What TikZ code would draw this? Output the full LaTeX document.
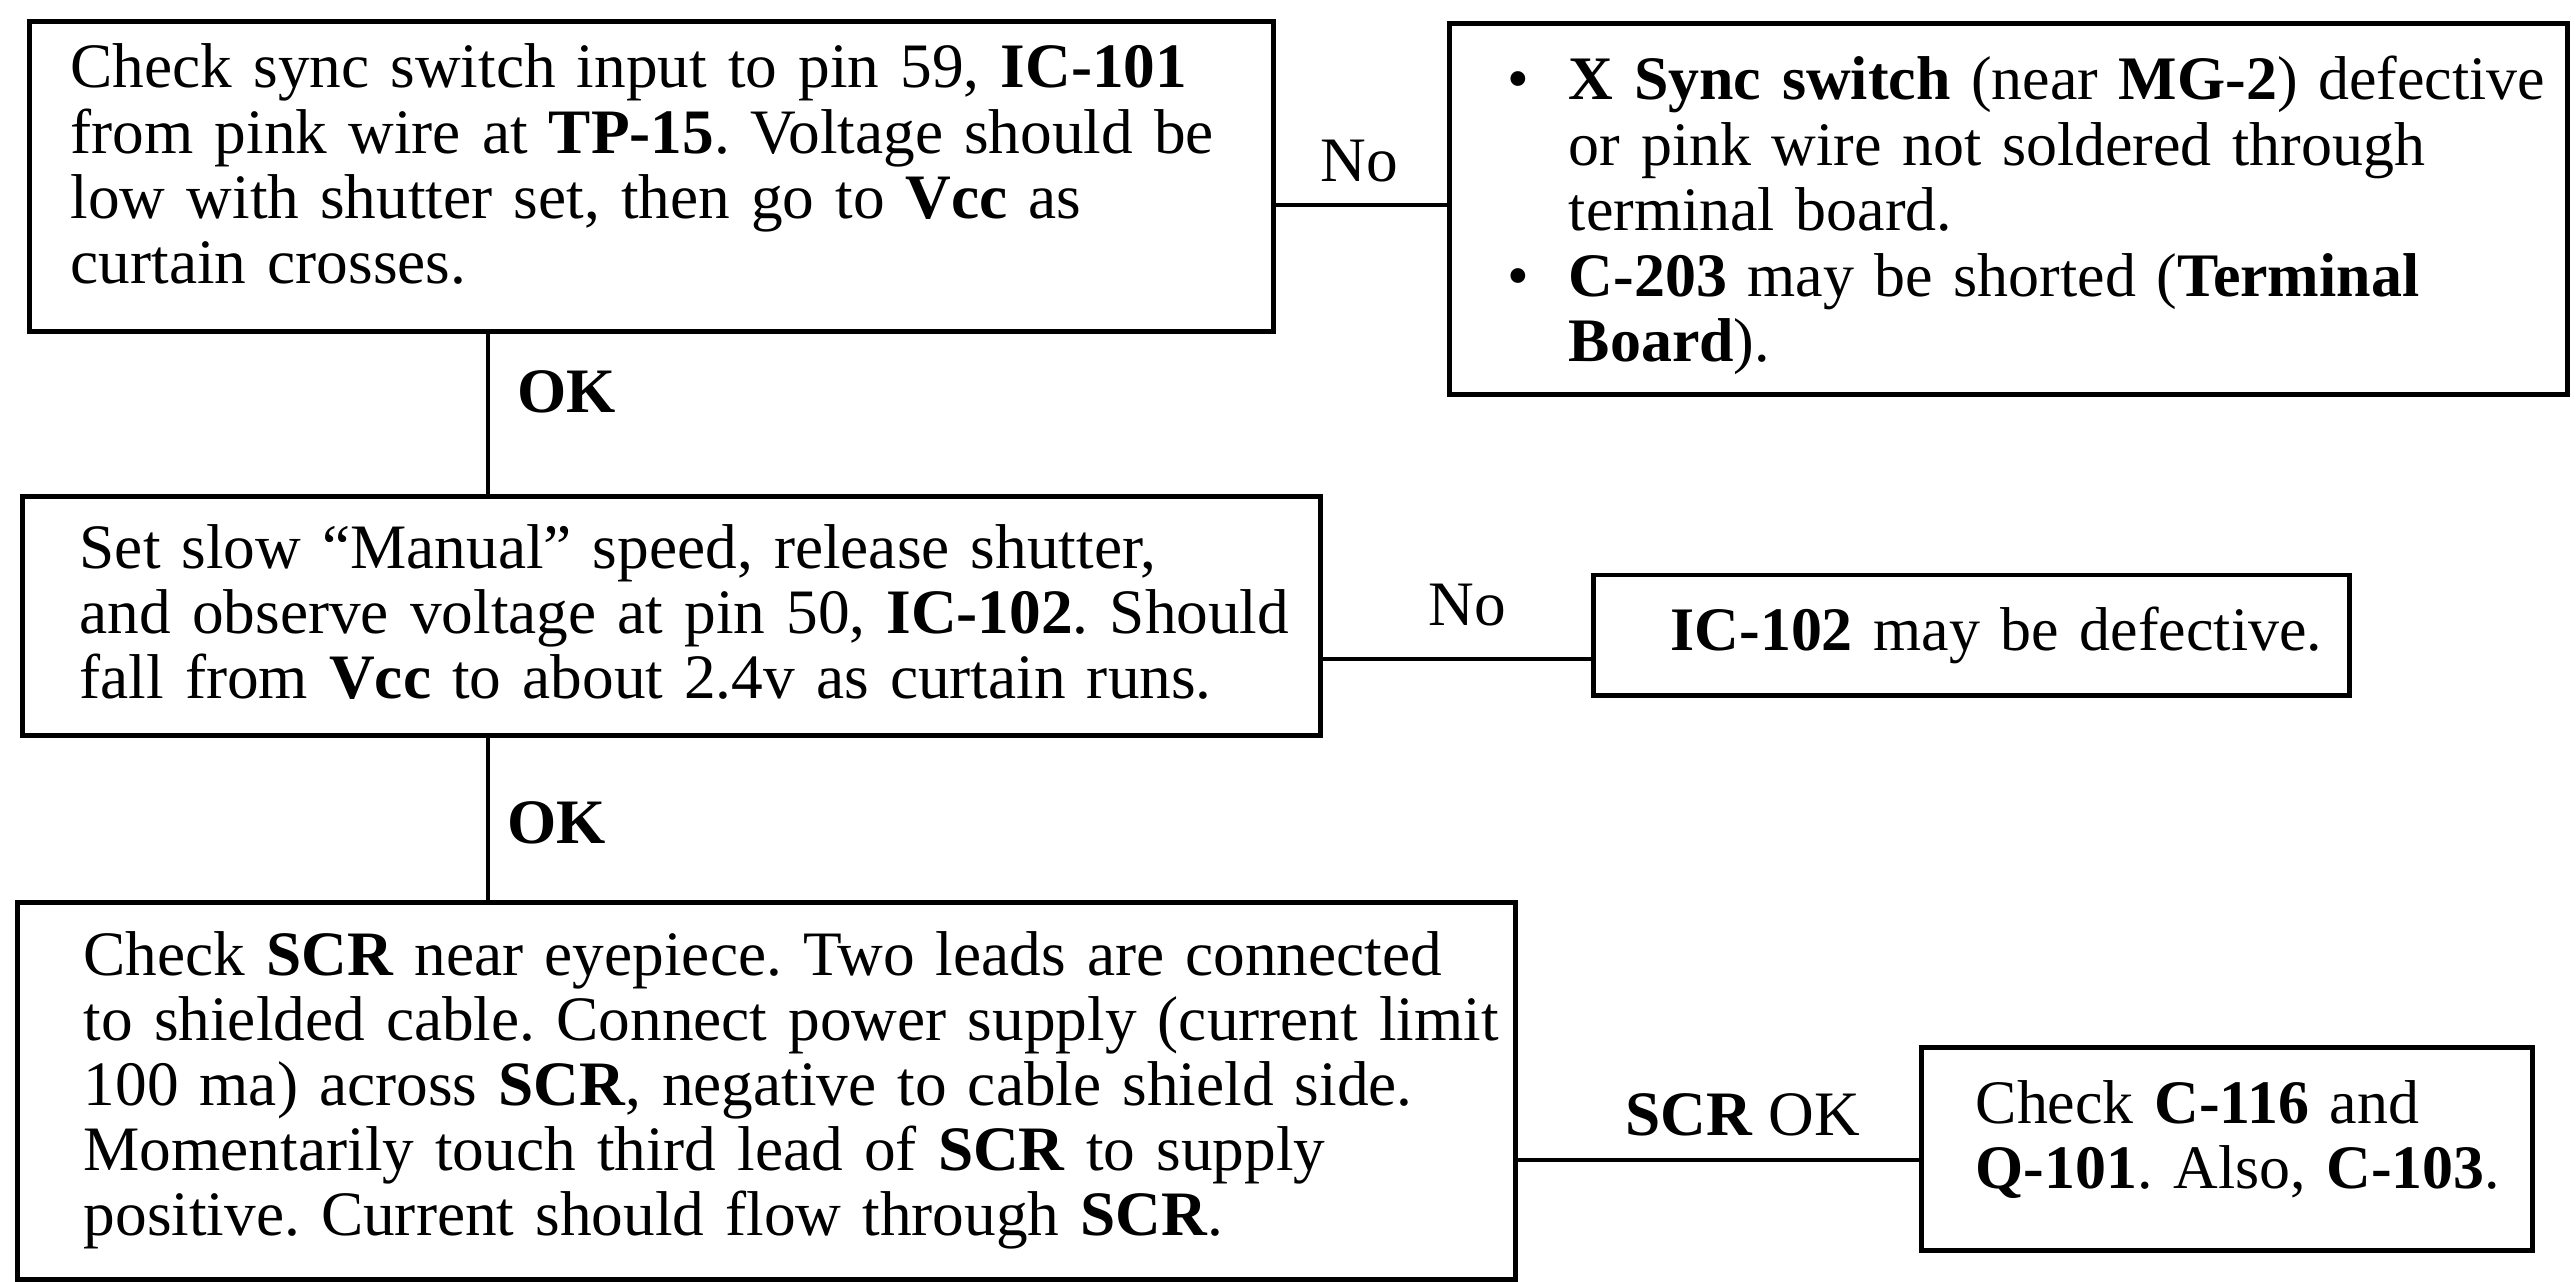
\documentclass[tikz,border=0pt]{standalone}
\usepackage{fontspec}
\setmainfont{Liberation Serif}
\begin{document}
\begin{tikzpicture}[x=0.01cm, y=-0.01cm,
  every node/.style={font=\fontsize{18}{18.5}\selectfont\frenchspacing},
  box/.style={draw, rectangle, line width=1.4pt, inner sep=0pt},
  conn/.style={line width=1.1pt},
  txt/.style={anchor=base west, inner sep=0pt, align=left},
  small/.style={font=\fontsize{17.6}{18.6}\selectfont\frenchspacing},
  lbl/.style={inner sep=0pt}]
\fill[white] (0,0) rectangle (2575,1282);
\useasboundingbox (0,0) rectangle (2575,1282);

% boxes
\node[box, minimum width=12.43cm, minimum height=3.09cm] (b1) at (651.5,176.5) {};
\node[box, minimum width=11.17cm, minimum height=3.70cm] (b2) at (2008.5,209) {};
\node[box, minimum width=12.97cm, minimum height=2.38cm] (b3) at (671.5,616) {};
\node[box, minimum width=7.55cm, minimum height=1.20cm] (b4) at (1971.5,635) {};
\node[box, minimum width=14.97cm, minimum height=3.76cm] (b5) at (766.5,1091) {};
\node[box, minimum width=6.10cm, minimum height=2.02cm] (b6) at (2227,1149) {};

% texts
\node[txt, text width=12.1cm] (t1) at (70,88) {Check sync switch input to pin 59, \textbf{IC-101}\\
from pink wire at \textbf{TP-15}. Voltage should be\\
low with shutter set, then go to \textbf{Vcc} as\\
curtain crosses.};

\node[txt, small, text width=10.6cm] (t2) at (1507,100) {\makebox[17.4pt][l]{\textbullet}\textbf{X Sync switch} (near \textbf{MG-2}) defective\\
\hspace*{17.4pt}or pink wire not soldered through\\
\hspace*{17.4pt}terminal board.\\
\makebox[17.4pt][l]{\textbullet}\textbf{C-203} may be shorted (\textbf{Terminal}\\
\hspace*{17.4pt}\textbf{Board}).};

\node[txt, text width=12.4cm] (t3) at (79,568) {Set slow “Manual” speed, release shutter,\\
and observe voltage at pin 50, \textbf{IC-102}. Should\\
fall from \textbf{Vcc} to about 2.4v as curtain runs.};

\node[txt, small, text width=6.9cm] (t4) at (1670,650) {\textbf{IC-102} may be defective.};

\node[txt, text width=14.4cm] (t5) at (83,975) {Check \textbf{SCR} near eyepiece. Two leads are connected\\
to shielded cable. Connect power supply (current limit\\
100 ma) across \textbf{SCR}, negative to cable shield side.\\
Momentarily touch third lead of \textbf{SCR} to supply\\
positive. Current should flow through \textbf{SCR}.};

\node[txt, small, text width=5.8cm] (t6) at (1975,1123) {Check \textbf{C-116} and\\
\textbf{Q-101}. Also, \textbf{C-103}.};

% connectors
\coordinate (v) at (488,0);
\coordinate (h1) at (0,205);
\coordinate (h2) at (0,659);
\coordinate (h3) at (0,1160);
\draw[conn] (b1.south -| v) -- (b3.north -| v);
\draw[conn] (b3.south -| v) -- (b5.north -| v);
\draw[conn] (b1.east |- h1) -- (b2.west |- h1);
\draw[conn] (b3.east |- h2) -- (b4.west |- h2);
\draw[conn] (b5.east |- h3) -- (b6.west |- h3);

% labels
\node[lbl, anchor=base] (n1) at (1359,182) {No};
\node[lbl, anchor=base] (n2) at (1467,625) {No};
\node[lbl, anchor=base west] (ok1) at (517,412) {\textbf{OK}};
\node[lbl, anchor=base west] (ok2) at (507,843) {\textbf{OK}};
\node[lbl, anchor=base] (ok3) at (1743,1135) {\textbf{SCR} OK};
\end{tikzpicture}
\end{document}
